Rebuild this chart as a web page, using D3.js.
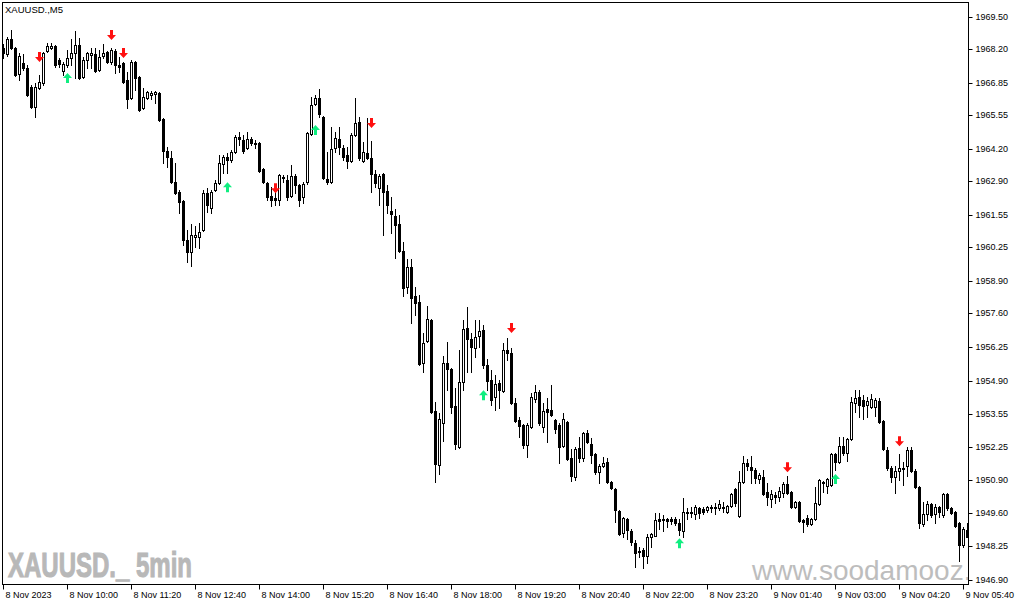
<!DOCTYPE html>
<html><head><meta charset="utf-8">
<script src="https://cdn.jsdelivr.net/npm/d3@7"></script>
<style>html,body{margin:0;padding:0;background:#fff;overflow:hidden}</style>
</head><body>
<svg id="chart" width="1015" height="605"></svg>
<script>
// ---- categories: M5 bars from 8 Nov 2023 08:40 (server closes 00:00-01:00)
const firstBar = "2023-11-08 08:40";
const barCount = 242;

const open = [
1968.25,1968.01,1968.61,1968.25,1967.21,1967.65,1967.45,1966.69,1965.89,1966.65,
1966.85,1968.13,1968.25,1968.33,1967.77,1967.33,1967.57,1967.85,1968.05,1968.37,
1967.09,1967.77,1967.97,1968.01,1967.37,1967.93,1968.09,1967.69,1968.13,1967.57,
1967.65,1966.97,1966.25,1967.69,1967.09,1965.85,1966.25,1966.37,1966.41,1966.45,
1965.40,1964.12,1963.84,1962.87,1962.47,1962.11,1960.55,1960.06,1960.67,1960.67,
1960.95,1962.43,1961.83,1962.55,1962.83,1963.60,1963.88,1963.76,1964.08,1964.68,
1964.56,1964.24,1964.60,1964.44,1964.44,1963.40,1962.83,1962.31,1962.23,1962.15,
1963.08,1962.95,1962.31,1963.12,1962.75,1962.27,1962.87,1964.80,1966.01,1966.25,
1965.48,1963.00,1962.87,1964.24,1964.60,1964.24,1963.96,1963.72,1964.76,1965.28,
1963.72,1964.04,1963.84,1963.20,1962.63,1963.20,1962.51,1961.71,1961.51,1961.19,
1960.11,1958.66,1959.46,1958.30,1958.06,1955.61,1956.49,1957.34,1953.68,1951.51,
1953.20,1955.61,1955.37,1953.88,1952.23,1954.85,1957.02,1956.57,1956.21,1956.69,
1956.94,1955.53,1954.93,1954.24,1954.81,1954.48,1956.13,1956.01,1954.00,1953.32,
1953.12,1952.31,1953.04,1954.16,1954.44,1953.04,1953.76,1953.72,1953.32,1953.12,
1952.27,1953.24,1951.79,1951.03,1952.19,1951.79,1952.80,1952.35,1951.95,1951.23,
1951.47,1951.63,1950.83,1950.55,1949.67,1948.79,1949.35,1948.87,1948.38,1948.06,
1948.10,1947.86,1948.63,1948.67,1949.35,1949.35,1949.35,1949.35,1949.33,1949.19,
1948.87,1949.63,1949.63,1949.55,1949.79,1949.75,1949.71,1949.79,1949.83,1949.79,
1949.83,1949.63,1949.87,1950.55,1949.47,1950.83,1951.59,1951.43,1951.31,1950.95,
1951.03,1950.43,1950.15,1950.31,1950.23,1950.39,1950.75,1950.43,1949.83,1950.03,
1949.31,1949.39,1949.15,1949.35,1949.95,1950.79,1950.67,1950.71,1951.95,1951.63,
1952.27,1951.99,1952.55,1954.00,1954.24,1954.12,1953.92,1953.84,1953.84,1954.08,
1953.28,1952.11,1951.39,1951.03,1951.27,1951.39,1951.47,1952.11,1951.27,1950.63,
1949.15,1949.55,1949.95,1949.55,1949.83,1949.51,1950.35,1949.79,1949.63,1949.19,
1948.30,1948.91];

const high = [
1968.41,1968.70,1968.98,1968.29,1968.05,1968.01,1967.57,1966.77,1966.85,1967.17,
1968.09,1968.45,1968.45,1968.37,1967.85,1967.69,1968.17,1968.61,1968.94,1968.65,
1967.89,1968.09,1968.25,1968.25,1968.17,1968.41,1968.13,1968.25,1968.21,1967.89,
1967.69,1967.29,1967.77,1967.73,1967.13,1966.65,1966.53,1966.53,1966.53,1966.49,
1965.44,1964.28,1964.12,1963.64,1962.55,1962.15,1960.95,1961.19,1961.11,1961.23,
1962.55,1962.63,1962.55,1962.95,1963.96,1963.96,1964.04,1964.16,1964.76,1964.88,
1964.76,1964.88,1964.68,1964.56,1964.48,1963.44,1962.87,1962.67,1962.55,1963.20,
1963.16,1963.16,1963.56,1963.20,1962.79,1962.87,1964.88,1966.29,1966.37,1966.61,
1965.52,1964.08,1965.08,1964.88,1965.08,1964.36,1964.28,1964.84,1966.25,1965.48,
1964.48,1965.44,1964.52,1963.36,1963.20,1963.24,1962.75,1962.27,1961.79,1961.55,
1960.47,1959.78,1959.78,1958.66,1958.34,1956.82,1957.90,1957.38,1954.04,1953.60,
1955.89,1956.45,1955.41,1954.60,1956.13,1957.34,1957.86,1956.82,1957.34,1957.34,
1957.14,1955.77,1955.33,1955.13,1954.93,1956.41,1956.61,1956.21,1954.20,1953.44,
1953.16,1953.20,1954.40,1954.72,1954.52,1954.00,1954.20,1954.72,1953.36,1953.20,
1953.60,1953.28,1952.15,1952.23,1952.63,1952.84,1952.92,1952.59,1951.99,1951.55,
1951.83,1951.79,1950.87,1950.59,1949.71,1949.43,1949.39,1948.95,1948.50,1948.22,
1948.18,1948.75,1948.79,1949.59,1949.59,1949.51,1949.37,1949.43,1949.43,1949.35,
1950.19,1949.79,1949.83,1949.91,1949.83,1949.83,1949.87,1949.91,1949.99,1950.11,
1950.03,1949.91,1950.39,1950.59,1951.27,1951.87,1951.75,1951.87,1951.39,1951.19,
1951.31,1950.79,1950.51,1950.43,1950.63,1950.83,1951.07,1950.47,1950.07,1950.07,
1949.33,1949.51,1949.39,1950.63,1950.95,1950.87,1950.99,1951.99,1951.99,1952.63,
1952.63,1952.59,1954.24,1954.52,1954.52,1954.32,1954.24,1954.36,1954.20,1954.20,
1953.32,1952.23,1951.47,1951.47,1951.95,1951.63,1952.23,1952.23,1951.35,1950.67,
1950.03,1950.07,1949.99,1949.95,1949.87,1950.39,1950.39,1949.83,1949.67,1949.23,
1949.03,1949.19];

const low = [
1967.85,1967.93,1968.21,1967.13,1966.97,1967.37,1966.33,1965.85,1965.48,1966.61,
1966.77,1968.09,1968.21,1967.49,1967.49,1967.17,1967.49,1967.57,1967.05,1967.01,
1967.05,1967.45,1967.45,1967.29,1967.33,1967.85,1967.65,1967.61,1967.25,1967.29,
1966.85,1965.85,1966.21,1966.57,1965.72,1965.81,1966.21,1966.21,1966.05,1965.32,
1963.64,1963.48,1962.83,1962.39,1961.63,1960.35,1959.66,1959.50,1960.27,1960.23,
1960.91,1961.67,1961.63,1962.51,1962.79,1963.24,1963.24,1963.68,1964.04,1964.36,
1964.04,1964.20,1964.36,1964.24,1963.28,1962.83,1962.15,1961.91,1961.95,1961.95,
1962.87,1962.15,1962.27,1962.43,1961.91,1962.03,1962.79,1964.76,1965.97,1965.48,
1963.00,1962.79,1962.83,1964.08,1964.00,1963.76,1963.44,1963.68,1964.72,1963.76,
1963.68,1963.80,1962.47,1962.67,1961.95,1960.75,1961.63,1960.83,1959.82,1960.06,
1958.30,1958.42,1957.22,1957.54,1955.53,1955.25,1956.45,1953.60,1950.83,1951.15,
1952.47,1954.52,1953.60,1952.15,1952.19,1954.52,1955.25,1955.25,1955.85,1956.25,
1955.41,1954.52,1953.92,1953.72,1953.80,1954.44,1955.73,1953.96,1953.24,1952.63,
1952.19,1951.83,1953.00,1954.04,1953.12,1952.84,1952.43,1953.48,1952.80,1951.59,
1952.23,1951.71,1950.87,1950.91,1951.63,1951.67,1952.39,1951.59,1951.15,1950.79,
1951.43,1950.79,1950.55,1949.23,1948.71,1948.63,1948.55,1948.30,1947.42,1947.82,
1947.38,1947.58,1948.22,1948.67,1948.95,1948.87,1949.03,1949.15,1949.11,1948.71,
1948.63,1949.35,1949.43,1949.35,1949.39,1949.55,1949.63,1949.63,1949.55,1949.71,
1949.63,1949.59,1949.83,1949.87,1949.43,1950.79,1951.31,1950.79,1950.79,1950.79,
1950.31,1949.91,1949.83,1949.99,1950.07,1950.23,1950.35,1949.81,1949.79,1949.23,
1948.83,1949.07,1949.11,1949.31,1949.91,1950.43,1950.39,1950.67,1951.31,1951.59,
1951.91,1951.67,1952.51,1953.64,1953.44,1953.36,1953.44,1953.80,1953.48,1953.20,
1952.11,1951.31,1950.83,1950.39,1950.91,1950.71,1951.07,1951.23,1950.59,1948.99,
1949.07,1949.31,1949.43,1949.19,1949.43,1949.43,1949.71,1949.55,1949.03,1947.66,
1948.22,1948.63];

const close = [
1968.05,1968.61,1968.25,1967.17,1967.93,1967.45,1966.37,1965.89,1966.69,1966.89,
1968.05,1968.33,1968.33,1967.57,1967.61,1967.61,1967.85,1968.05,1968.37,1967.05,
1967.77,1968.05,1968.05,1967.33,1967.89,1968.05,1967.69,1968.17,1967.57,1967.49,
1966.89,1966.21,1967.69,1967.05,1965.77,1966.29,1966.49,1966.45,1966.49,1965.36,
1964.12,1963.88,1962.87,1962.43,1962.07,1960.55,1960.06,1960.75,1960.75,1960.87,
1962.43,1961.95,1962.47,1962.83,1963.64,1963.88,1963.76,1964.08,1964.68,1964.60,
1964.12,1964.60,1964.44,1964.40,1963.32,1962.87,1962.27,1962.15,1962.15,1963.16,
1963.04,1962.27,1963.12,1962.75,1962.15,1962.79,1964.84,1965.97,1966.25,1965.60,
1963.04,1962.87,1964.20,1964.64,1964.28,1963.88,1963.72,1964.76,1965.24,1963.84,
1964.08,1963.84,1963.20,1962.83,1963.12,1962.47,1961.95,1961.59,1961.15,1960.10,
1958.62,1959.46,1958.22,1958.02,1955.57,1956.41,1957.38,1953.64,1951.55,1953.36,
1955.61,1955.37,1953.84,1952.35,1954.85,1956.98,1956.57,1956.25,1956.65,1956.90,
1955.53,1954.89,1954.12,1954.76,1954.52,1956.13,1956.01,1954.00,1953.28,1953.08,
1952.31,1953.12,1954.24,1954.44,1953.20,1953.68,1953.64,1953.52,1952.96,1952.23,
1953.36,1951.75,1951.07,1952.15,1951.79,1952.80,1952.43,1951.91,1951.23,1951.47,
1951.59,1950.83,1950.59,1949.71,1948.75,1949.39,1948.91,1948.42,1947.98,1948.02,
1947.86,1948.63,1948.75,1949.31,1949.27,1949.31,1949.27,1949.27,1949.19,1948.91,
1949.63,1949.59,1949.59,1949.83,1949.59,1949.63,1949.83,1949.83,1949.79,1949.95,
1949.79,1949.87,1950.35,1949.99,1950.83,1951.59,1951.47,1951.31,1950.99,1951.11,
1950.35,1950.23,1950.35,1950.23,1950.47,1950.75,1950.39,1949.83,1950.03,1949.27,
1949.23,1949.15,1949.35,1949.99,1950.91,1950.83,1950.95,1951.95,1951.63,1952.27,
1951.99,1952.55,1954.04,1954.20,1953.92,1953.88,1954.08,1954.16,1954.12,1953.24,
1952.15,1951.39,1951.03,1951.27,1951.39,1951.35,1952.11,1951.27,1950.63,1949.19,
1949.55,1949.95,1949.51,1949.83,1949.63,1950.35,1949.79,1949.59,1949.07,1948.30,
1948.95,1948.63];

// signal arrows: bar index and price level of arrow centre
const sellBars   = [9, 27, 30, 68, 92, 127, 196, 224];
const sellPrices = [1967.89, 1968.78, 1968.05, 1962.63, 1965.24, 1957.02, 1951.43, 1952.47];
const buyBars    = [16, 56, 78, 120, 169, 208];
const buyPrices  = [1967.05, 1962.67, 1964.96, 1954.32, 1948.38, 1950.95];

// axis labels
const yTickLabels = ["1969.50","1968.20","1966.85","1965.55","1964.20","1962.90","1961.55","1960.25",
  "1958.90","1957.60","1956.25","1954.90","1953.55","1952.25","1950.90","1949.60","1948.25","1946.90"];
const xTickTimes = ["2023-11-08 08:40","2023-11-08 10:00","2023-11-08 11:20","2023-11-08 12:40",
  "2023-11-08 14:00","2023-11-08 15:20","2023-11-08 16:40","2023-11-08 18:00","2023-11-08 19:20",
  "2023-11-08 20:40","2023-11-08 22:00","2023-11-08 23:20","2023-11-09 01:40","2023-11-09 03:00",
  "2023-11-09 04:20","2023-11-09 05:40"];
const xTickLabels = ["8 Nov 2023","8 Nov 10:00","8 Nov 11:20","8 Nov 12:40","8 Nov 14:00","8 Nov 15:20",
  "8 Nov 16:40","8 Nov 18:00","8 Nov 19:20","8 Nov 20:40","8 Nov 22:00","8 Nov 23:20","9 Nov 01:40",
  "9 Nov 03:00","9 Nov 04:20","9 Nov 05:40"];
const titleText = "XAUUSD.,M5";
const watermarkLeft = "XAUUSD._ 5min";
const watermarkRight = "www.soodamooz.com";

// build bar times (5-minute steps, 00:00-00:55 break skipped)
const parse = d3.timeParse("%Y-%m-%d %H:%M");
const fmt = d3.timeFormat("%Y-%m-%d %H:%M");
const times = [];
{
  let t = parse(firstBar);
  for (let i = 0; i < barCount; i++) {
    times.push(fmt(t));
    t = d3.timeMinute.offset(t, 5);
    if (t.getHours() === 0) t = d3.timeHour.offset(t, 1);
  }
}
const bars = times.map((t, i) => ({t, o: open[i], h: high[i], l: low[i], c: close[i]}));

// layout
const W = 1015, H = 605;
const plotL = 2, plotT = 2, plotR = 968, plotB = 584;
const FONT = "Liberation Sans, Arial, sans-serif";

const svg = d3.select("#chart");
const x = d3.scalePoint().domain(times).range([3.5, 967.5]);
const y = d3.scaleLinear().domain([1946.90, 1969.50]).range([580, 17]);
const py = v => Math.round(y(v));
const px = t => Math.floor(x(t));

svg.append("rect").attr("x",0).attr("y",0).attr("width",W).attr("height",H).attr("fill","#fff");

svg.append("defs").append("clipPath").attr("id","plotclip")
  .append("rect").attr("x",plotL+1).attr("y",plotT+1).attr("width",plotR-plotL-1).attr("height",plotB-plotT-1);

const plot = svg.append("g").attr("clip-path","url(#plotclip)");

// watermarks
plot.append("text").attr("x",8).attr("y",577)
  .attr("font-family",FONT)
  .attr("font-weight","bold").attr("font-size",35)
  .attr("textLength",184).attr("lengthAdjust","spacingAndGlyphs")
  .attr("fill","#b8b8b8").attr("stroke","#b8b8b8").attr("stroke-width",1.1)
  .text(watermarkLeft);
plot.append("text").attr("x",752).attr("y",580)
  .attr("font-family",FONT).attr("font-size",28)
  .attr("fill","#bdbdbd").text(watermarkRight);

// candles
const cg = plot.append("g");
bars.forEach(b => {
  const cx = px(b.t);
  const yh = py(b.h), yl = py(b.l);
  cg.append("rect").attr("x",cx).attr("y",yh).attr("width",1).attr("height",Math.max(1,yl-yh+1)).attr("fill","#000");
  const top = py(Math.max(b.o,b.c)), bot = py(Math.min(b.o,b.c));
  if (b.c >= b.o && bot - top >= 2) {
    cg.append("rect").attr("x",cx-0.5).attr("y",top+0.5).attr("width",2).attr("height",bot-top)
      .attr("fill","#fff").attr("stroke","#000").attr("stroke-width",1);
  } else {
    cg.append("rect").attr("x",cx-1).attr("y",top).attr("width",3).attr("height",Math.max(1,bot-top+1)).attr("fill","#000");
  }
});

// arrows
const downPath = "M-1.5,-5 L1.5,-5 L1.5,0 L4.5,0 L0,5 L-4.5,0 L-1.5,0 Z";
const upPath   = "M-1.5,5 L1.5,5 L1.5,0 L4.5,0 L0,-5 L-4.5,0 L-1.5,0 Z";
sellBars.forEach((bi, k) => {
  plot.append("path").attr("d",downPath)
    .attr("transform",`translate(${px(times[bi])+0.5},${y(sellPrices[k])})`)
    .attr("fill","#ff1010");
});
buyBars.forEach((bi, k) => {
  plot.append("path").attr("d",upPath)
    .attr("transform",`translate(${px(times[bi])+0.5},${y(buyPrices[k])})`)
    .attr("fill","#10ee80");
});

// frame
svg.append("rect").attr("x",plotL+0.5).attr("y",plotT+0.5).attr("width",plotR-plotL).attr("height",plotB-plotT)
  .attr("fill","none").attr("stroke","#000").attr("stroke-width",1);

// title
svg.append("text").attr("x",5).attr("y",13).attr("font-family",FONT)
  .attr("font-size",9.5).attr("fill","#000").text(titleText);

// y axis
const yVals = yTickLabels.map(Number);
const yAxis = d3.axisRight(y).tickValues(yVals).tickSize(4).tickPadding(3)
  .tickFormat((d,i) => yTickLabels[i]);
const yg = svg.append("g").attr("transform",`translate(${plotR+0.5},0)`).call(yAxis);
yg.select(".domain").remove();
yg.selectAll(".tick").attr("transform", d => `translate(0,${py(d)+0.5})`);
yg.selectAll("text").attr("font-family",FONT).attr("font-size",9).attr("fill","#000");
yg.selectAll("line").attr("stroke","#000");

// x axis
const xg = svg.append("g").attr("transform",`translate(0,${plotB+0.5})`);
xTickTimes.forEach((t, i) => {
  const xx = px(t) + 0.5;
  xg.append("line").attr("x1",xx).attr("x2",xx).attr("y1",0).attr("y2",5).attr("stroke","#000");
  xg.append("text").attr("x",xx+2).attr("y",13).attr("font-family",FONT)
    .attr("font-size",9).attr("fill","#000").text(xTickLabels[i]);
});
</script>
</body></html>
